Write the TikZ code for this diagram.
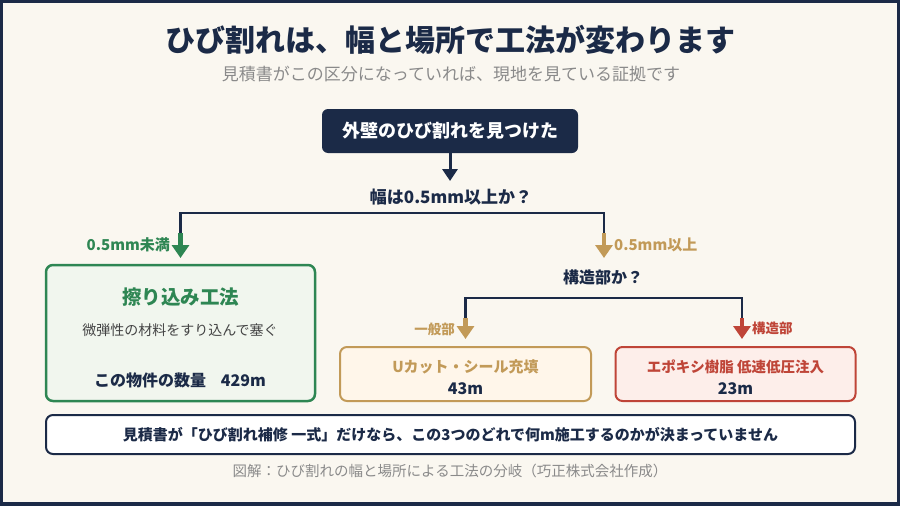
\documentclass[tikz,border=0pt]{standalone}
\usepackage{fontspec}
\setmainfont{Noto Sans CJK JP}
\usepackage{xcolor}
\usepackage{tikz}
\usetikzlibrary{positioning}
\usetikzlibrary{arrows.meta}

\definecolor{navy}{HTML}{1B2A47}
\definecolor{cream}{HTML}{FAF7F0}
\definecolor{ash}{HTML}{8A8A8A}
\definecolor{inkgray}{HTML}{444444}
\definecolor{leaf}{HTML}{2E8653}
\definecolor{leafbg}{HTML}{F1F6EE}
\definecolor{gold}{HTML}{C29A58}
\definecolor{goldbg}{HTML}{FFF6EA}
\definecolor{brick}{HTML}{BF4538}
\definecolor{brickbg}{HTML}{FDEEEA}

\newcommand{\fs}[1]{\fontsize{#1}{#1}\selectfont}

\begin{document}
\begin{tikzpicture}[x=1pt,y=-1pt,
  every node/.style={inner sep=0pt},
  navyline/.style={navy, line width=2.5pt},
  bigarrow/.style={line width=4.5pt, -{Triangle[width=17pt,length=13pt]}},
  methodbox/.style={rounded corners=7pt, line width=2pt}]

% frame
\fill[navy] (0,0) rectangle (900,506);
\fill[cream] (3,3) rectangle (897,502);

\node[navy, font=\fs{30}\bfseries] (heading) at (450,40) {ひび割れは、幅と場所で工法が変わります};
\node[ash, font=\fs{17}] (lead) at (451,74) {見積書がこの区分になっていれば、現地を見ている証拠です};

\node[fill=navy, text=white, rounded corners=6pt, minimum width=256pt, minimum height=44pt, font=\fs{18}\bfseries] (found) at (450,131) {外壁のひび割れを見つけた};
\node[navy, font=\fs{17}\bfseries] (ask1) at (451,197) {幅は0.5mm以上か？};

\coordinate (tip0) at (450,181);
\draw[navy, line width=3pt, -{Triangle[width=15pt,length=12pt]}] (found.south) -- (tip0);

% first fork
\coordinate (fork1L) at (180.5,213);
\coordinate (fork1R) at (604,213);
\coordinate (drop1L) at (180.5,233);
\coordinate (drop1R) at (604,233);
\coordinate (tip1L) at (180.5,258);
\coordinate (tip1R) at (604,258);
\draw[navyline] (drop1L) -- (fork1L) -- (fork1R) -- (drop1R);
\draw[leaf, bigarrow] (drop1L) -- (tip1L);
\draw[gold, bigarrow] (drop1R) -- (tip1R);
\node[leaf, anchor=east, font=\fs{15}\bfseries] (thin) at (170,245) {0.5mm未満};
\node[gold, anchor=west, font=\fs{15}\bfseries] (wide) at (614,245) {0.5mm以上};

% rubbing method
\node[methodbox, draw=leaf, fill=leafbg, line width=2.5pt, minimum width=269pt, minimum height=136pt] (rub) at (180.5,333) {};
\node[leaf, font=\fs{19.5}\bfseries] (rubname) at (180.5,297) {擦り込み工法};
\node[inkgray, font=\fs{14}] (rubtext) at (180,330) {微弾性の材料をすり込んで塞ぐ};
\node[navy, font=\fs{16}\bfseries] (rubqty) at (180,380) {この物件の数量\hspace{15pt}429m};

\node[navy, font=\fs{16}\bfseries] (ask2) at (603,277) {構造部か？};

% second fork
\coordinate (fork2L) at (465.5,298);
\coordinate (fork2R) at (742,298);
\coordinate (drop2L) at (465.5,318);
\coordinate (drop2R) at (742,318);
\coordinate (tip2L) at (465.5,339);
\coordinate (tip2R) at (742,339);
\draw[navyline] (drop2L) -- (fork2L) -- (fork2R) -- (drop2R);
\draw[gold, bigarrow] (drop2L) -- (tip2L);
\draw[brick, bigarrow] (drop2R) -- (tip2R);
\node[gold, anchor=east, font=\fs{13.5}\bfseries] (general) at (455,329) {一般部};
\node[brick, anchor=west, font=\fs{13.5}\bfseries] (structural) at (752,328) {構造部};

% U-cut and epoxy
\node[methodbox, draw=gold, fill=goldbg, minimum width=251pt, minimum height=54pt] (ucut) at (465.5,374) {};
\node[gold, font=\fs{15}\bfseries] (ucutname) at (465.5,367) {Uカット・シール充填};
\node[navy, font=\fs{16}\bfseries] (ucutqty) at (465.5,389) {43m};

\node[methodbox, draw=brick, fill=brickbg, minimum width=240pt, minimum height=54pt] (epoxy) at (735.5,374) {};
\node[brick, font=\fs{14.5}\bfseries] (epoxyname) at (735.5,367) {エポキシ樹脂 低速低圧注入};
\node[navy, font=\fs{16}\bfseries] (epoxyqty) at (735.5,389) {23m};

% note
\node[methodbox, draw=navy, fill=white, minimum width=809pt, minimum height=39pt, font=\fs{15}\bfseries, text=navy] (note) at (450.5,434.5) {見積書が「ひび割れ補修 一式」だけなら、この3つのどれで何m施工するのかが決まっていません};

\node[ash, font=\fs{14.5}] (caption) at (450,471) {図解：ひび割れの幅と場所による工法の分岐（巧正株式会社作成）};

\end{tikzpicture}
\end{document}
